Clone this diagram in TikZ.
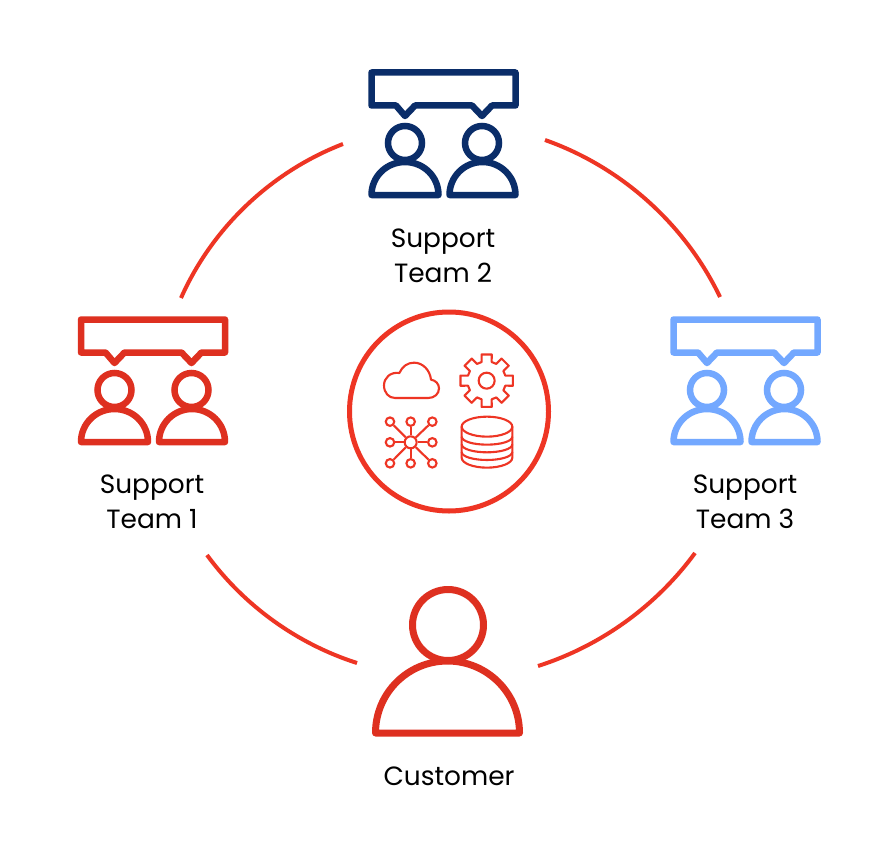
\documentclass[tikz,border=0pt]{standalone}
\usepackage{fontspec}
\setmainfont{Poppins}
\definecolor{ringred}{HTML}{EE3524}
\definecolor{iconred}{HTML}{DE3020}
\definecolor{navy}{HTML}{0A2D69}
\definecolor{skyblue}{HTML}{73A8FF}
\tikzset{
  ring/.style={draw=ringred,line width=4pt},
  lbl/.style={align=center,inner sep=0pt,font=\fontsize{26.4}{35}\selectfont,text=black},
  glyph/.style={draw=ringred,line width=2.1pt,line join=round},
  team/.pic={
    \draw[line join=round,line width=6.5pt]
      (0,0) -- (144,0) -- (144,33) -- (120.5,33) -- (110.5,43.5) -- (100.5,33)
      -- (43.5,33) -- (33.5,43.5) -- (24.5,33) -- (0,33) -- cycle;
    \draw[line width=6.5pt] (33.5,70.5) circle[radius=17];
    \draw[line width=6.5pt] (110.5,70.5) circle[radius=17];
    \draw[line join=round,line width=6.5pt] (0,122.5) .. controls (0,104) and (15,89.5) .. (33.5,89.5)
      .. controls (52,89.5) and (67,104) .. (67,122.5) -- cycle;
    \draw[line join=round,line width=6.5pt] (78,122.5) .. controls (78,104) and (93,89.5) .. (111,89.5)
      .. controls (129,89.5) and (144,104) .. (144,122.5) -- cycle;
  }
}
\begin{document}
\begin{tikzpicture}[x=1pt,y=-1pt]
\useasboundingbox (0,0) rectangle (896,856);
\fill[white] (0,0) rectangle (896,856);
% ring arcs
\coordinate (a1) at (343,144); \coordinate (a2) at (181,298);
\coordinate (b1) at (545,140); \coordinate (b2) at (720,297);
\coordinate (c1) at (695,553); \coordinate (c2) at (538,666);
\coordinate (d1) at (207,555); \coordinate (d2) at (357,663);
\draw[ring] (a1) to[bend right=22.5,looseness=0.88] (a2);
\draw[ring] (b1) to[bend left=22.5,looseness=0.88] (b2);
\draw[ring] (c1) to[bend left=18,looseness=0.87] (c2);
\draw[ring] (d1) to[bend right=18,looseness=0.87] (d2);
% teams
\pic[draw=navy] at (371.5,72.5) {team};
\pic[draw=iconred] at (81,319.5) {team};
\pic[draw=skyblue] at (673.5,319.5) {team};
% customer
\draw[draw=iconred,line width=7pt] (448,625) circle[radius=35.5];
\draw[draw=iconred,line width=7pt,line join=round] (375.5,733) .. controls (375.5,693) and (408,661) .. (447.5,661)
  .. controls (487,661) and (519.5,693) .. (519.5,733) -- cycle;
% labels
\node[lbl] (t2) at (443,256) {Support\\Team 2};
\node[lbl] (t1) at (152,502) {Support\\Team 1};
\node[lbl] (t3) at (745,502) {Support\\Team 3};
\node[lbl] (cu) at (449,776) {Customer};
% centre
\node[circle,draw=ringred,line width=5pt,minimum size=199pt,inner sep=0pt] (hubring) at (449,411.5) {};
\begin{scope}[shift={(340,300)},x=0.3333pt,y=-0.3333pt]
  % cloud
  \draw[glyph] (165,294) -- (265,294) .. controls (284,294) and (297,281) .. (297,265)
    .. controls (297,252) and (287,241) .. (273,239)
    .. controls (270,210) and (248,188) .. (222,188)
    .. controls (203,188) and (187,199) .. (178,219)
    .. controls (151,215) and (132,234) .. (132,256)
    .. controls (132,278) and (146,294) .. (165,294) -- cycle;
  % gear
  \draw[glyph] (440,242) circle[radius=24];
  \draw[glyph,shift={(440,242)}]
    (-15:58)
    \foreach \a in {0,45,...,315} { -- (\a-15:58) -- (\a-11:80) -- (\a+11:80) -- (\a+15:58) }
    -- cycle;
  % network
  \foreach \n/\px/\py in {s1/150/365,s2/212/365,s3/277/365,s4/150/427,s5/277/427,s6/150/490,s7/212/490,s8/277/490}{
    \node[circle,draw=ringred,line width=2.1pt,minimum size=8.5pt,inner sep=0pt] (\n) at (\px,\py) {};
  }
  \node[circle,draw=ringred,line width=2.1pt,minimum size=12pt,inner sep=0pt] (hub) at (212,427) {};
  \foreach \n in {s1,s2,s3,s4,s5,s6,s7,s8}{ \draw[draw=ringred,line width=2.1pt] (hub) -- (\n); }
  % database
  \draw[glyph] (441,380) ellipse[x radius=76,y radius=30];
  \draw[glyph] (365,380) -- (365,473) .. controls (365,490) and (400,503) .. (441,503)
    .. controls (482,503) and (517,490) .. (517,473) -- (517,380);
  \draw[glyph] (365,410) .. controls (365,424) and (400,434) .. (441,434) .. controls (482,434) and (517,424) .. (517,410);
  \draw[glyph] (365,433) .. controls (365,447) and (400,457) .. (441,457) .. controls (482,457) and (517,447) .. (517,433);
  \draw[glyph] (365,456) .. controls (365,470) and (400,480) .. (441,480) .. controls (482,480) and (517,470) .. (517,456);
\end{scope}
\end{tikzpicture}
\end{document}
